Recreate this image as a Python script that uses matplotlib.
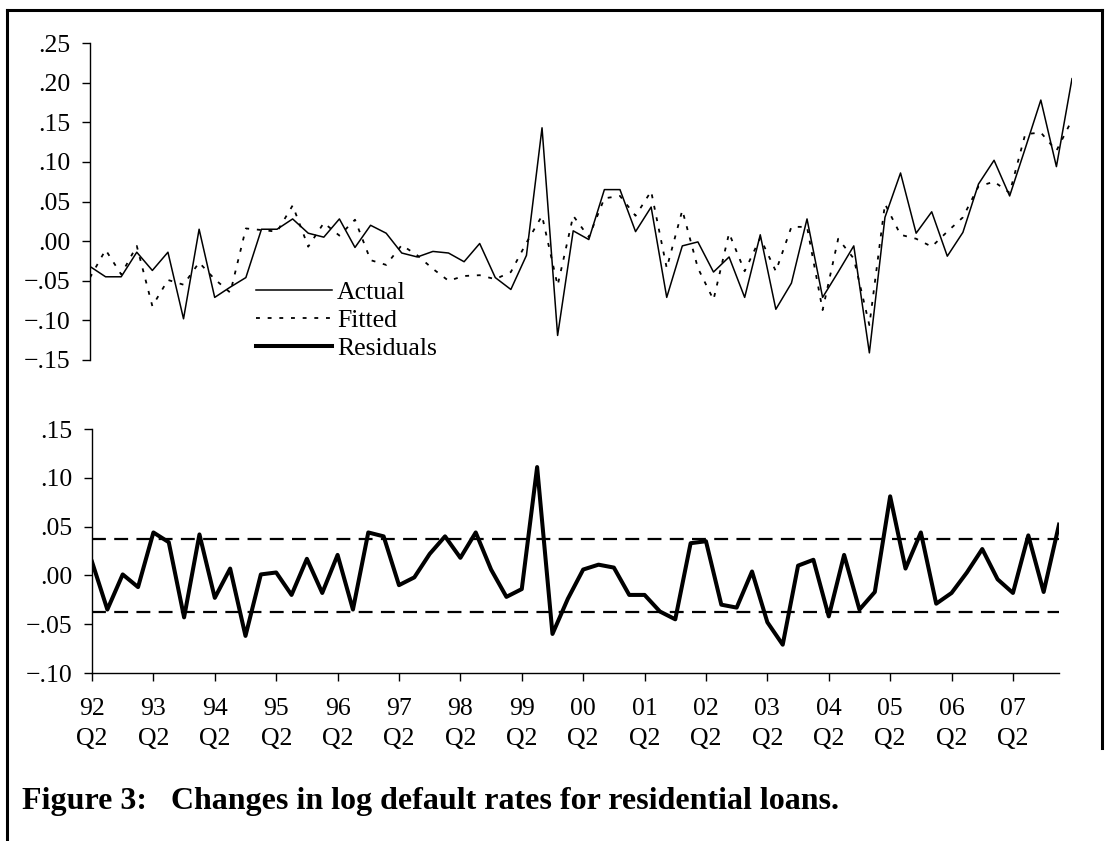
import numpy as np
import matplotlib.pyplot as plt
from matplotlib.lines import Line2D
from matplotlib.ticker import FuncFormatter

plt.rcParams['font.family'] = ['Liberation Serif', 'DejaVu Serif']
plt.rcParams['lines.scale_dashes'] = False

# quarterly changes, 92Q2 .. 08Q1
years = ['92', '93', '94', '95', '96', '97', '98', '99',
         '00', '01', '02', '03', '04', '05', '06', '07']

actual = [-0.032, -0.045, -0.045, -0.014, -0.037, -0.014, -0.098, 0.015,
          -0.071, -0.058, -0.046, 0.015, 0.015, 0.028, 0.010, 0.005,
          0.028, -0.008, 0.020, 0.010, -0.015, -0.020, -0.013, -0.015,
          -0.026, -0.003, -0.046, -0.061, -0.018, 0.143, -0.119, 0.013,
          0.002, 0.065, 0.065, 0.012, 0.043, -0.071, -0.006, -0.001,
          -0.039, -0.020, -0.071, 0.008, -0.086, -0.053, 0.028, -0.071,
          -0.039, -0.006, -0.141, 0.030, 0.086, 0.010, 0.037, -0.019,
          0.011, 0.072, 0.102, 0.057, 0.117, 0.178, 0.094, 0.205]

fitted = [-0.046, -0.011, -0.042, -0.006, -0.082, -0.049, -0.055, -0.027,
          -0.048, -0.065, 0.016, 0.014, 0.012, 0.045, -0.007, 0.023,
          0.007, 0.027, -0.024, -0.030, -0.005, -0.018, -0.035, -0.050,
          -0.044, -0.043, -0.048, -0.039, -0.002, 0.032, -0.056, 0.032,
          0.005, 0.054, 0.057, 0.032, 0.063, -0.034, 0.039, -0.034,
          -0.074, 0.010, -0.038, 0.004, -0.038, 0.018, 0.018, -0.087,
          0.003, -0.022, -0.106, 0.047, 0.008, 0.003, -0.007, 0.012,
          0.030, 0.069, 0.075, 0.061, 0.135, 0.137, 0.114, 0.153]

residual = [0.014, -0.035, 0.001, -0.012, 0.044, 0.034, -0.043, 0.042,
            -0.023, 0.007, -0.062, 0.001, 0.003, -0.020, 0.017, -0.018,
            0.021, -0.035, 0.044, 0.040, -0.010, -0.002, 0.022, 0.040,
            0.018, 0.044, 0.006, -0.022, -0.014, 0.111, -0.060, -0.024,
            0.006, 0.011, 0.008, -0.020, -0.020, -0.037, -0.045, 0.033,
            0.035, -0.030, -0.033, 0.004, -0.048, -0.071, 0.010, 0.016,
            -0.042, 0.021, -0.035, -0.017, 0.081, 0.007, 0.044, -0.029,
            -0.018, 0.003, 0.027, -0.004, -0.018, 0.041, -0.017, 0.052]

band = 0.037  # +/- one standard error

top_ticks = [-0.15, -0.10, -0.05, 0.00, 0.05, 0.10, 0.15, 0.20, 0.25]
bot_ticks = [-0.10, -0.05, 0.00, 0.05, 0.10, 0.15]

W, H = 1110, 841
FS = 18.5


def px(x0, y0, x1, y1):
    return [x0 / W, 1 - y1 / H, (x1 - x0) / W, (y1 - y0) / H]


def dec(v, pos):
    return f"{v:.2f}".replace('0.', '.', 1).replace('-', '\u2212')


q = np.arange(len(actual))

fig = plt.figure(figsize=(W / 100, H / 100), dpi=100)
ax1 = fig.add_axes(px(90, 43, 1072, 360))
ax2 = fig.add_axes(px(92, 429, 1059, 673))

# upper panel: actual vs fitted
l1, = ax1.plot(q, actual, color='black', lw=1.1)
l2, = ax1.plot(q, fitted, color='black', lw=1.3, dashes=(2.8, 5.6))
ax1.set_xlim(0, len(q) - 1)
ax1.set_ylim(-0.15, 0.25)
ax1.set_yticks(top_ticks)
ax1.yaxis.set_major_formatter(FuncFormatter(dec))
ax1.set_xticks([])
for s in ['top', 'right', 'bottom']:
    ax1.spines[s].set_visible(False)

# lower panel: residuals with the band
l3, = ax2.plot(q, residual, color='black', lw=2.9)
ax2.axhline(band, color='black', lw=1.6, dashes=(10, 6))
ax2.axhline(-band, color='black', lw=1.6, dashes=(10, 6))
ax2.set_xlim(0, len(q) - 1)
ax2.set_ylim(-0.10, 0.15)
ax2.set_yticks(bot_ticks)
ax2.yaxis.set_major_formatter(FuncFormatter(dec))
ax2.set_xticks(np.arange(len(years)) * 4)
ax2.set_xticklabels([y + '\nQ2' for y in years], linespacing=1.45)
for s in ['top', 'right']:
    ax2.spines[s].set_visible(False)

for ax in (ax1, ax2):
    for s in ax.spines.values():
        s.set_linewidth(1.0)
    ax.tick_params(direction='out', length=6, width=1.0, labelsize=FS, pad=8)
ax2.tick_params(axis='x', pad=12)

ax1.legend([l1, l2, l3], ['Actual', 'Fitted', 'Residuals'],
           loc='upper left', bbox_to_anchor=(256 / W, 1 - 281 / H),
           bbox_transform=fig.transFigure, frameon=False, fontsize=FS,
           handlelength=2.95, handletextpad=0.2, labelspacing=0.2,
           borderpad=0, borderaxespad=0)

fig.text(22 / W, 1 - 801 / H,
         'Figure 3:   Changes in log default rates for residential loans.',
         fontsize=23, fontweight='bold', va='center', ha='left')

# box around the figure
for xs, ys in [([7, 7], [10, H]), ([7, 1102], [10, 10]), ([1102, 1102], [10, 748])]:
    fig.add_artist(Line2D([x / W for x in xs], [1 - y / H for y in ys],
                          color='black', lw=2.2, transform=fig.transFigure))

fig.savefig('out.png', dpi=100)
